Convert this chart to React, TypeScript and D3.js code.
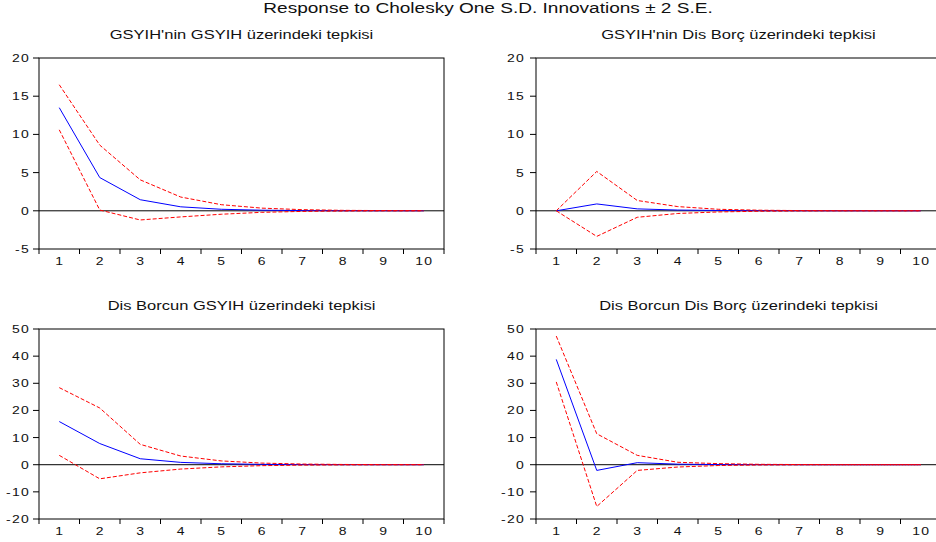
import React, { useEffect, useRef } from 'react';
import * as d3 from 'd3';

const periods = [1, 2, 3, 4, 5, 6, 7, 8, 9, 10];

// GSYIH'nin GSYIH üzerindeki tepkisi
const resp1 = [13.5, 4.35, 1.45, 0.52, 0.2, 0.08, 0.03, 0.01, 0.005, 0.002];
const upper1 = [16.5, 8.6, 4.05, 1.8, 0.8, 0.35, 0.15, 0.06, 0.03, 0.01];
const lower1 = [10.6, 0.1, -1.2, -0.8, -0.45, -0.2, -0.08, -0.03, -0.01, -0.005];

// GSYIH'nin Dis Borç üzerindeki tepkisi
const resp2 = [0, 0.9, 0.25, 0.1, 0.04, 0.015, 0.006, 0.002, 0.001, 0];
const upper2 = [0, 5.15, 1.35, 0.55, 0.2, 0.08, 0.03, 0.012, 0.005, 0.002];
const lower2 = [0, -3.35, -0.85, -0.35, -0.15, -0.06, -0.02, -0.008, -0.003, -0.001];

// Dis Borcun GSYIH üzerindeki tepkisi
const resp3 = [15.9, 7.8, 2.2, 0.86, 0.35, 0.14, 0.05, 0.02, 0.008, 0.003];
const upper3 = [28.4, 20.9, 7.5, 3.2, 1.4, 0.6, 0.25, 0.1, 0.04, 0.02];
const lower3 = [3.45, -5.2, -3.0, -1.6, -0.8, -0.35, -0.15, -0.06, -0.025, -0.01];

// Dis Borcun Dis Borç üzerindeki tepkisi
const resp4 = [38.8, -2.1, 0.75, 0.2, 0.06, 0.02, 0.008, 0.003, 0.001, 0];
const upper4 = [47.4, 11.4, 3.45, 0.9, 0.4, 0.15, 0.06, 0.02, 0.008, 0.003];
const lower4 = [30.5, -15.4, -2.1, -0.85, -0.3, -0.1, -0.04, -0.015, -0.006, -0.002];

const titles = [
  "GSYIH'nin GSYIH üzerindeki tepkisi",
  "GSYIH'nin Dis Borç üzerindeki tepkisi",
  'Dis Borcun GSYIH üzerindeki tepkisi',
  'Dis Borcun Dis Borç üzerindeki tepkisi',
];
const yTicksTop = [-5, 0, 5, 10, 15, 20];
const yTicksBottom = [-20, -10, 0, 10, 20, 30, 40, 50];

const mainTitle = 'Response to Cholesky One S.D. Innovations ± 2 S.E.';

const W = 936;
const H = 542;
const STRETCH = 1.27;
const FONT = '"Liberation Sans", Arial, sans-serif';

const App = () => {
  const ref = useRef<SVGSVGElement>(null);

  useEffect(() => {
    const svg = d3.select(ref.current);
    svg.selectAll('*').remove();

    svg
      .append('text')
      .attr('transform', `translate(488,13.3) scale(${STRETCH},1)`)
      .attr('text-anchor', 'middle')
      .style('font-family', FONT)
      .style('font-size', '15px')
      .attr('fill', '#111')
      .text(mainTitle);

    const panels = [
      { left: 39, top: 58, bottom: 249, domain: [-5, 20], ticks: yTicksTop, resp: resp1, up: upper1, lo: lower1, title: titles[0], labelGap: 9 },
      { left: 536, top: 58, bottom: 249, domain: [-5, 20], ticks: yTicksTop, resp: resp2, up: upper2, lo: lower2, title: titles[1], labelGap: 11 },
      { left: 39, top: 329, bottom: 519, domain: [-20, 50], ticks: yTicksBottom, resp: resp3, up: upper3, lo: lower3, title: titles[2], labelGap: 9 },
      { left: 536, top: 329, bottom: 519, domain: [-20, 50], ticks: yTicksBottom, resp: resp4, up: upper4, lo: lower4, title: titles[3], labelGap: 11 },
    ];

    panels.forEach((p) => {
      const right = p.left + 405;
      const x = d3.scaleBand<number>().domain(periods).range([p.left, right]);
      const y = d3.scaleLinear().domain(p.domain).range([p.bottom, p.top]);
      const cx = (d: number) => (x(d) as number) + x.bandwidth() / 2;

      const g = svg.append('g');

      // panel title
      g.append('text')
        .attr('transform', `translate(${(p.left + right) / 2},${p.top - 18.7}) scale(${STRETCH},1)`)
        .attr('text-anchor', 'middle')
        .style('font-family', FONT)
        .style('font-size', '13px')
        .attr('fill', '#111')
        .text(p.title);

      // frame
      g.append('rect')
        .attr('x', p.left)
        .attr('y', p.top)
        .attr('width', right - p.left)
        .attr('height', p.bottom - p.top)
        .attr('fill', 'none')
        .attr('stroke', '#000')
        .attr('stroke-width', 1);

      // y ticks
      p.ticks.forEach((t) => {
        g.append('line')
          .attr('x1', p.left - 6)
          .attr('x2', p.left)
          .attr('y1', y(t))
          .attr('y2', y(t))
          .attr('stroke', '#000');
        g.append('text')
          .attr('transform', `translate(${p.left - p.labelGap},${y(t) + 4}) scale(${STRETCH},1)`)
          .attr('text-anchor', 'end')
          .style('font-family', FONT)
          .style('font-size', '11px')
          .style('letter-spacing', '1px')
          .attr('fill', '#111')
          .text(t);
      });

      // x ticks at band edges, labels in band centres
      [...periods.map((d) => x(d) as number), right].forEach((v) => {
        g.append('line')
          .attr('x1', v)
          .attr('x2', v)
          .attr('y1', p.bottom)
          .attr('y2', p.bottom + 5)
          .attr('stroke', '#000');
      });
      periods.forEach((d) => {
        g.append('text')
          .attr('transform', `translate(${cx(d) + 0.6},${p.bottom + 15.5}) scale(${STRETCH},1)`)
          .attr('text-anchor', 'middle')
          .style('font-family', FONT)
          .style('font-size', '11px')
          .style('letter-spacing', '1px')
          .attr('fill', '#111')
          .text(d);
      });

      // zero line
      g.append('line')
        .attr('x1', p.left)
        .attr('x2', right)
        .attr('y1', y(0))
        .attr('y2', y(0))
        .attr('stroke', '#000');

      const line = d3
        .line<number>()
        .x((_, i) => cx(periods[i]))
        .y((v) => y(v));

      g.append('path').attr('d', line(p.resp)).attr('fill', 'none').attr('stroke', '#0000ff').attr('stroke-width', 1);
      [p.up, p.lo].forEach((band) => {
        g.append('path')
          .attr('d', line(band))
          .attr('fill', 'none')
          .attr('stroke', '#ff0000')
          .attr('stroke-width', 1)
          .attr('stroke-dasharray', '4,2');
      });
    });
  }, []);

  return (
    <svg
      ref={ref}
      width={W}
      height={H}
      style={{ position: 'absolute', left: 0, top: 0, display: 'block', background: '#fff' }}
    />
  );
};

export default App;
